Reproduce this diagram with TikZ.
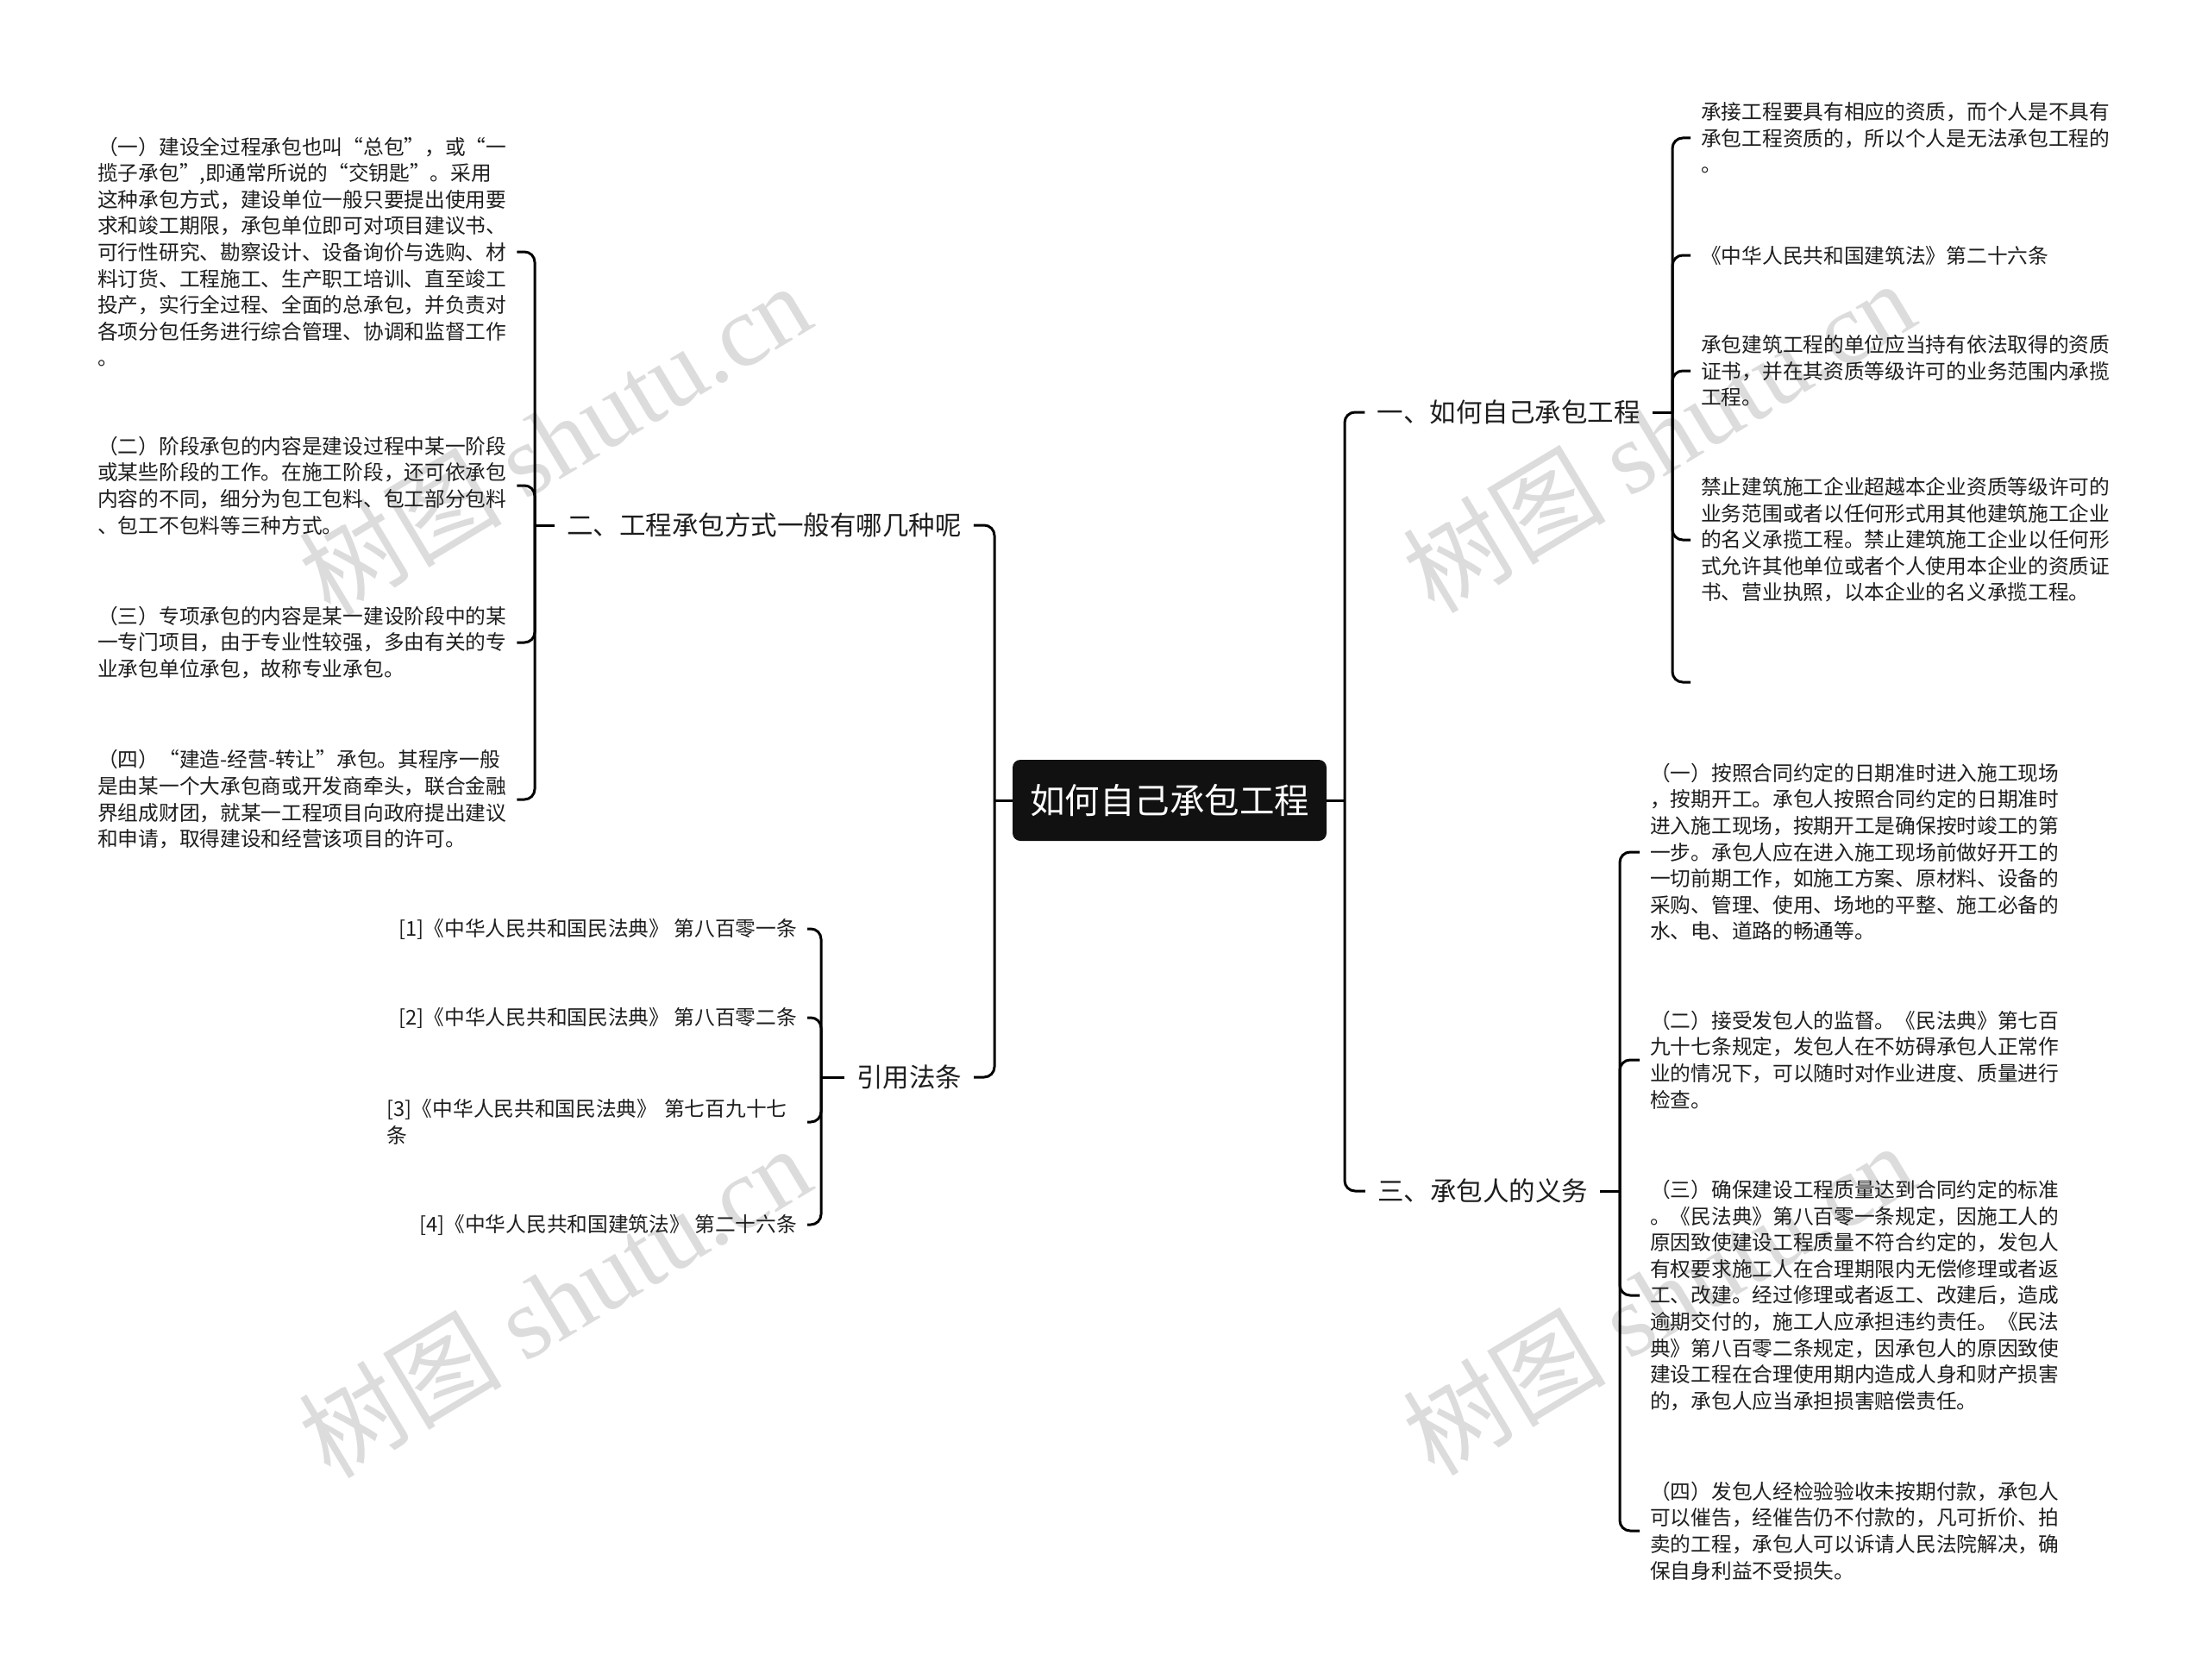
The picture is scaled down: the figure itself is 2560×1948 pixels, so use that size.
\documentclass[tikz,border=0pt]{standalone}
\usepackage{fontspec}
\setmainfont{Noto Sans CJK SC}
\newfontfamily\wmlatin{Liberation Serif}
\definecolor{ink}{HTML}{1E1E1E}
\definecolor{rootfill}{HTML}{111111}
\definecolor{wmgray}{HTML}{DCDCDC}
\begin{document}
\begin{tikzpicture}[x=1pt,y=-1pt,
  conn/.style={draw=black, line width=3pt, rounded corners=12pt},
  rootbox/.style={fill=rootfill, rounded corners=9pt, text=white, font=\fontsize{40.5pt}{48pt}\selectfont, minimum width=364pt, minimum height=94pt, inner sep=0pt},
  topic/.style={text=ink, font=\fontsize{30.5pt}{36pt}\selectfont, inner xsep=14pt, inner ysep=4pt},
  leaf/.style={text=ink, font=\fontsize{23.7pt}{30.6pt}\selectfont, align=left, inner xsep=12pt, inner ysep=3pt},
  wm/.style={text=wmgray, font=\fontsize{118pt}{122pt}\selectfont, rotate=31, inner sep=0pt}
]
\useasboundingbox (0,0) rectangle (2560,1948);
% watermarks
\node[wm] (w1) at (643,508) {树图 {\wmlatin shutu.cn}};
\node[wm] (w2) at (643,1508) {树图 {\wmlatin shutu.cn}};
\node[wm] (w3) at (1923,505) {树图 {\wmlatin shutu.cn}};
\node[wm] (w4) at (1923,1505) {树图 {\wmlatin shutu.cn}};

% root and main topics
\node[rootbox] (root) at (1356,928) {如何自己承包工程};
\node[topic] (n2) at (886,609) {二、工程承包方式一般有哪几种呢};
\node[topic] (nY) at (1054,1249) {引用法条};
\node[topic] (n1) at (1749,478) {一、如何自己承包工程};
\node[topic] (n3) at (1719,1381) {三、承包人的义务};

\coordinate (tl) at (1153,928);
\coordinate (tr) at (1559,928);
\draw[conn] (root.west) -- (tl);
\draw[conn] (tl) |- (n2.east);
\draw[conn] (tl) |- (nY.east);
\draw[conn] (root.east) -- (tr);
\draw[conn] (tr) |- (n1.west);
\draw[conn] (tr) |- (n3.west);

% children of 二
\node[leaf, anchor=west] (c21) at (101,292) {（一）建设全过程承包也叫“总包”，或“一\\揽子承包”,即通常所说的“交钥匙”。采用\\这种承包方式，建设单位一般只要提出使用要\\求和竣工期限，承包单位即可对项目建议书、\\可行性研究、勘察设计、设备询价与选购、材\\料订货、工程施工、生产职工培训、直至竣工\\投产，实行全过程、全面的总承包，并负责对\\各项分包任务进行综合管理、协调和监督工作\\。};
\node[leaf, anchor=west] (c22) at (101,563) {（二）阶段承包的内容是建设过程中某一阶段\\或某些阶段的工作。在施工阶段，还可依承包\\内容的不同，细分为包工包料、包工部分包料\\、包工不包料等三种方式。};
\node[leaf, anchor=west] (c23) at (101,745) {（三）专项承包的内容是某一建设阶段中的某\\一专门项目，由于专业性较强，多由有关的专\\业承包单位承包，故称专业承包。};
\node[leaf, anchor=west] (c24) at (101,927) {（四）“建造-经营-转让”承包。其程序一般\\是由某一个大承包商或开发商牵头，联合金融\\界组成财团，就某一工程项目向政府提出建议\\和申请，取得建设和经营该项目的许可。};
\coordinate (b2) at (620,609);
\draw[conn] (n2.west) -- (b2);
\foreach \c in {c21,c22,c23,c24} \draw[conn] (b2) |- (\c.east);

% children of 引用法条
\node[leaf, anchor=east] (r1) at (936,1077) {[1]《中华人民共和国民法典》 第八百零一条};
\node[leaf, anchor=east] (r2) at (936,1180) {[2]《中华人民共和国民法典》 第八百零二条};
\node[leaf, anchor=east, text width=475pt] (r3) at (936,1301) {[3]《中华人民共和国民法典》 第七百九十七\\条};
\node[leaf, anchor=east] (r4) at (936,1420) {[4]《中华人民共和国建筑法》 第二十六条};
\coordinate (bY) at (952,1249);
\draw[conn] (nY.west) -- (bY);
\foreach \c in {r1,r2,r3,r4} \draw[conn] (bY) |- (\c.east);

% children of 一
\node[leaf, anchor=west] (a1) at (1960,160) {承接工程要具有相应的资质，而个人是不具有\\承包工程资质的，所以个人是无法承包工程的\\。};
\node[leaf, anchor=west] (a2) at (1960,296) {《中华人民共和国建筑法》第二十六条};
\node[leaf, anchor=west] (a3) at (1960,430) {承包建筑工程的单位应当持有依法取得的资质\\证书，并在其资质等级许可的业务范围内承揽\\工程。};
\node[leaf, anchor=west] (a4) at (1960,626) {禁止建筑施工企业超越本企业资质等级许可的\\业务范围或者以任何形式用其他建筑施工企业\\的名义承揽工程。禁止建筑施工企业以任何形\\式允许其他单位或者个人使用本企业的资质证\\书、营业执照，以本企业的名义承揽工程。};
\coordinate (a5) at (1960,791);
\coordinate (b1) at (1939,478);
\draw[conn] (n1.east) -- (b1);
\foreach \c in {a1,a2,a3,a4} \draw[conn] (b1) |- (\c.west);
\draw[conn] (b1) |- (a5);

% children of 三
\node[leaf, anchor=west] (d1) at (1901,988) {（一）按照合同约定的日期准时进入施工现场\\，按期开工。承包人按照合同约定的日期准时\\进入施工现场，按期开工是确保按时竣工的第\\一步。承包人应在进入施工现场前做好开工的\\一切前期工作，如施工方案、原材料、设备的\\采购、管理、使用、场地的平整、施工必备的\\水、电、道路的畅通等。};
\node[leaf, anchor=west] (d2) at (1901,1229) {（二）接受发包人的监督。《民法典》第七百\\九十七条规定，发包人在不妨碍承包人正常作\\业的情况下，可以随时对作业进度、质量进行\\检查。};
\node[leaf, anchor=west] (d3) at (1901,1502) {（三）确保建设工程质量达到合同约定的标准\\。《民法典》第八百零一条规定，因施工人的\\原因致使建设工程质量不符合约定的，发包人\\有权要求施工人在合理期限内无偿修理或者返\\工、改建。经过修理或者返工、改建后，造成\\逾期交付的，施工人应承担违约责任。《民法\\典》第八百零二条规定，因承包人的原因致使\\建设工程在合理使用期内造成人身和财产损害\\的，承包人应当承担损害赔偿责任。};
\node[leaf, anchor=west] (d4) at (1901,1775) {（四）发包人经检验验收未按期付款，承包人\\可以催告，经催告仍不付款的，凡可折价、拍\\卖的工程，承包人可以诉请人民法院解决，确\\保自身利益不受损失。};
\coordinate (b3) at (1878,1381);
\draw[conn] (n3.east) -- (b3);
\foreach \c in {d1,d2,d3,d4} \draw[conn] (b3) |- (\c.west);
\end{tikzpicture}
\end{document}
